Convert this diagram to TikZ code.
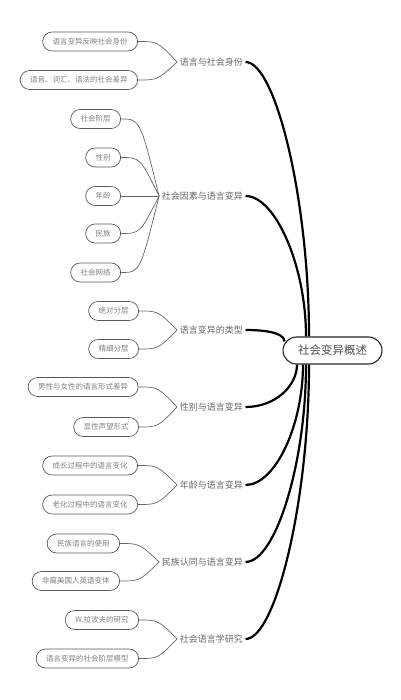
\documentclass[tikz,border=0pt]{standalone}
\usepackage{fontspec}
\setmainfont{Noto Sans CJK SC}
\usetikzlibrary{calc}
\newcommand\thicklink[2]{\draw[thickline] let \p1=(#1.east), \p2=(#2) in (\p1) .. controls ($(\p1)+(30pt,0pt)$) and (\x2,{0.5*\y1+0.5*\y2}) .. (\p2);}
\newcommand\thinlink[2]{\draw[thinline] let \p1=(#1.east), \p2=(#2.west) in (\p1) .. controls ({0.5*\x1+0.5*\x2},\y1) .. (\p2);}
\begin{document}
\begin{tikzpicture}[x=1pt,y=-1pt,
  leaf/.style={draw=black!65, line width=0.7pt, rounded corners=9.5pt, minimum height=19pt, inner xsep=10pt, inner ysep=0pt, font=\fontsize{7.5}{8}\selectfont, text=black!50, anchor=east},
  branch/.style={font=\fontsize{9}{10}\selectfont, text=black!60, inner xsep=2.5pt, inner ysep=2pt, anchor=east},
  rootbox/.style={draw=black!85, line width=1.1pt, rounded corners=13.5pt, minimum width=99pt, minimum height=27pt, inner sep=0pt, font=\fontsize{11.5}{13}\selectfont, text=black!70},
  thinline/.style={draw=black!60, line width=0.7pt},
  thickline/.style={draw=black, line width=2.2pt}]
\useasboundingbox (0,0) rectangle (400,700);

\node[rootbox] (root) at (332.5,350.5) {社会变异概述};

\node[branch] (b1) at (245.5,62) {语言与社会身份};
\node[branch] (b2) at (245.5,196) {社会因素与语言变异};
\node[branch] (b3) at (245.5,330) {语言变异的类型};
\node[branch] (b4) at (245.5,407) {性别与语言变异};
\node[branch] (b5) at (245.5,485) {年龄与语言变异};
\node[branch] (b6) at (245.5,562) {民族认同与语言变异};
\node[branch] (b7) at (245.5,639) {社会语言学研究};

\node[leaf] (c11) at (138,41.5) {语言变异反映社会身份};
\node[leaf] (c12) at (138,80) {语音、词汇、语法的社会差异};
\node[leaf] (c21) at (121,119) {社会阶层};
\node[leaf] (c22) at (121,157.5) {性别};
\node[leaf] (c23) at (121,196) {年龄};
\node[leaf] (c24) at (121,233.5) {民族};
\node[leaf] (c25) at (121,272.5) {社会网络};
\node[leaf] (c31) at (139,311) {绝对分层};
\node[leaf] (c32) at (139,349) {精细分层};
\node[leaf] (c41) at (138.5,387) {男性与女性的语言形式差异};
\node[leaf] (c42) at (139,427) {显性声望形式};
\node[leaf] (c51) at (138,465.5) {成长过程中的语言变化};
\node[leaf] (c52) at (138,504.5) {老化过程中的语言变化};
\node[leaf] (c61) at (120,543.5) {民族语言的使用};
\node[leaf] (c62) at (120,581) {非裔美国人英语变体};
\node[leaf] (c71) at (139,620) {W.拉波夫的研究};
\node[leaf] (c72) at (139,658.5) {语言变异的社会阶层模型};

\thicklink{b1}{[xshift=-23.5pt]root.north}
\thicklink{b2}{[xshift=-26.5pt]root.north}
\thicklink{b3}{[xshift=2pt,yshift=9pt]root.west}
\thicklink{b4}{[xshift=-35.5pt]root.south}
\thicklink{b5}{[xshift=-29.5pt]root.south}
\thicklink{b6}{[xshift=-26.5pt]root.south}
\thicklink{b7}{[xshift=-23.5pt]root.south}

\thinlink{c11}{b1}
\thinlink{c12}{b1}
\thinlink{c21}{b2}
\thinlink{c22}{b2}
\thinlink{c23}{b2}
\thinlink{c24}{b2}
\thinlink{c25}{b2}
\thinlink{c31}{b3}
\thinlink{c32}{b3}
\thinlink{c41}{b4}
\thinlink{c42}{b4}
\thinlink{c51}{b5}
\thinlink{c52}{b5}
\thinlink{c61}{b6}
\thinlink{c62}{b6}
\thinlink{c71}{b7}
\thinlink{c72}{b7}
\end{tikzpicture}
\end{document}
